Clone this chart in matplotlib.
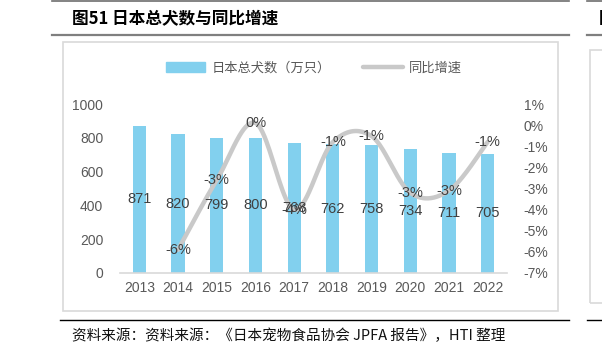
import numpy as np
import matplotlib
matplotlib.use("Agg")
import matplotlib.pyplot as plt
from matplotlib.lines import Line2D
from matplotlib.patches import Rectangle, Patch

plt.rcParams['font.family'] = ['Liberation Sans', 'Noto Sans CJK SC', 'DejaVu Sans']

# data
years = ["2013", "2014", "2015", "2016", "2017", "2018", "2019", "2020", "2021", "2022"]
dogs = [871, 820, 799, 800, 768, 762, 758, 734, 711, 705]          # 万只
growth_years = years[1:]
growth = [-5.9, -2.6, 0.1, -4.0, -0.8, -0.52, -3.2, -3.1, -0.8]    # %

left_ticks = [0, 200, 400, 600, 800, 1000]
right_ticks = [1, 0, -1, -2, -3, -4, -5, -6, -7]

W, H = 602, 356
fig = plt.figure(figsize=(W / 100, H / 100), dpi=100)


def fx(x):
    return x / W


def fy(y):
    return 1 - y / H


# frame pieces around the chart (report layout)
def hline(x0, x1, y, color, lw):
    fig.add_artist(Line2D([fx(x0), fx(x1)], [fy(y), fy(y)], color=color, lw=lw,
                          transform=fig.transFigure))


hline(52, 569, 1, "#6e6e6e", 1.2)
hline(52, 569, 35, "#7f7f7f", 1.6)
hline(60, 569, 320, "#000000", 1.0)
hline(587, 602, 1, "#6e6e6e", 1.2)
hline(587, 602, 35, "#7f7f7f", 1.6)
hline(587, 602, 320, "#000000", 1.0)

fig.add_artist(Rectangle((fx(63), fy(311)), fx(558) - fx(63), fy(42) - fy(311),
                         transform=fig.transFigure, fill=False, ec="#d9d9d9", lw=1.2))
fig.add_artist(Rectangle((fx(590), fy(303)), fx(620) - fx(590), fy(50) - fy(303),
                         transform=fig.transFigure, fill=False, ec="#d9d9d9", lw=1.2))

fig.text(fx(72), fy(19), "图51 日本总犬数与同比增速", fontsize=12, fontweight="bold",
         va="center", ha="left", family=['Noto Sans CJK SC', 'DejaVu Sans'])
fig.text(fx(599), fy(19), "图", fontsize=12, fontweight="bold",
         va="center", ha="left", family=['Noto Sans CJK SC', 'DejaVu Sans'])
fig.text(fx(72), fy(336), "资料来源：资料来源：《日本宠物食品协会 JPFA 报告》，HTI 整理",
         fontsize=10.5, va="center", ha="left", color="#111111",
         family=['Noto Sans CJK SC', 'DejaVu Sans'])

# axes
ax = fig.add_axes([fx(120), fy(273), fx(507) - fx(120), fy(104) - fy(273)])
x = np.arange(len(years))
ax.bar(x, dogs, width=0.34, color="#82d0ee", zorder=2)
ax.set_xlim(-0.5, len(years) - 0.5)
ax.set_ylim(0, 1000)
ax.set_yticks(left_ticks)
ax.set_xticks(x)
ax.set_xticklabels(years)
for s in ["top", "right", "left"]:
    ax.spines[s].set_visible(False)
ax.spines["bottom"].set_color("#d9d9d9")
ax.spines["bottom"].set_linewidth(1.2)
ax.tick_params(axis="both", length=0, labelsize=10, colors="#595959")
ax.tick_params(axis="y", pad=12)
ax.tick_params(axis="x", pad=6)

ax2 = ax.twinx()
ax2.set_ylim(-7, 1)
ax2.set_yticks(right_ticks)
ax2.set_yticklabels([f"{t}%" for t in right_ticks])
for s in ax2.spines.values():
    s.set_visible(False)
ax2.tick_params(axis="y", length=0, labelsize=10, colors="#595959", pad=12)


# smoothed line (Excel-style bezier through points)
def smooth(xs, ys, n=40):
    p = np.column_stack([xs, ys]).astype(float)
    out = []
    for i in range(len(p) - 1):
        p0 = p[i - 1] if i > 0 else p[i]
        p1, p2 = p[i], p[i + 1]
        p3 = p[i + 2] if i + 2 < len(p) else p[i + 1]
        c1 = p1 + (p2 - p0) / 6
        c2 = p2 - (p3 - p1) / 6
        t = np.linspace(0, 1, n)[:, None]
        seg = (1 - t) ** 3 * p1 + 3 * (1 - t) ** 2 * t * c1 + 3 * (1 - t) * t ** 2 * c2 + t ** 3 * p2
        out.append(seg)
    out = np.vstack(out)
    return out[:, 0], out[:, 1]


gx = np.array([years.index(y) for y in growth_years])
sx, sy = smooth(gx, growth)
ax2.plot(sx, sy, color="#c9c9c9", lw=3.2, solid_capstyle="round", zorder=3)

# bar labels in the middle of each bar
for xi, v in zip(x, dogs):
    ax2.text(xi, v / 2, f"{v}", transform=ax.transData, ha="center", va="center",
             fontsize=10.5, color="#404040", zorder=5)

for xi, g in zip(gx, growth):
    ax2.text(xi, g, f"{g:.0f}%", ha="center", va="center",
             fontsize=10.5, color="#404040", zorder=5)

handles = [Patch(color="#82d0ee"), Line2D([], [], color="#c9c9c9", lw=3.2, solid_capstyle="round")]
fig.legend(handles, ["日本总犬数（万只）", "同比增速"], loc="center", ncol=2,
           bbox_to_anchor=(fx(314), fy(68)), frameon=False, handlelength=3.0,
           handletextpad=0.5, columnspacing=2.4,
           prop={"family": ['Noto Sans CJK SC', 'DejaVu Sans'], "size": 9.5},
           labelcolor="#595959")

fig.savefig("out.png", dpi=100)
